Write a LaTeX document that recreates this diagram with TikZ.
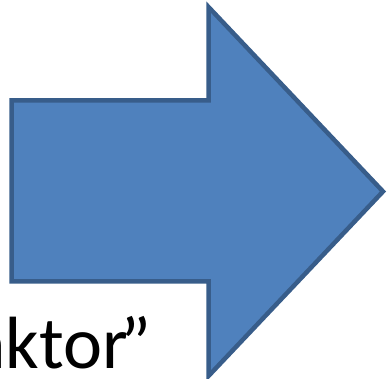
\documentclass[tikz,border=0pt]{standalone}
\usepackage{fontspec}
\setmainfont{Carlito}
\definecolor{arrowfill}{HTML}{4F81BD}
\definecolor{arrowline}{HTML}{385D8A}
\begin{document}
\begin{tikzpicture}[x=1pt,y=-1pt,
  bigarrow/.style={fill=arrowfill,draw=arrowline,line width=4.5pt,line join=miter,miter limit=10},
  label/.style={font=\fontsize{74}{74}\selectfont,text=black,inner sep=0pt,anchor=base west}]
  \useasboundingbox (0,0) rectangle (388,379);
  % block arrow pointing right
  \draw[bigarrow] (11.5,100.5) -- (208.5,100.5) -- (208.5,7) -- (383,191.5)
    -- (208.5,376) -- (208.5,281.5) -- (11.5,281.5) -- cycle;
  \node[label] (caption) at (-30,368) {aktor\kern-7pt”};
\end{tikzpicture}
\end{document}
